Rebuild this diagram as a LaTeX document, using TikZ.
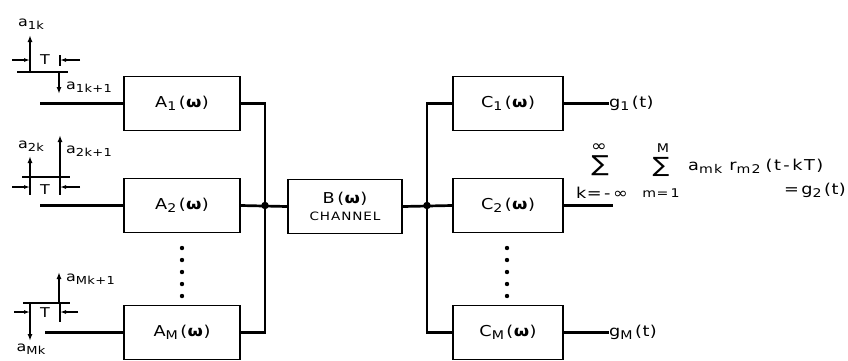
\documentclass[tikz,border=0pt]{standalone}
\usepackage{fontspec}
\setmainfont{DejaVu Sans}[FakeStretch=1.18,LetterSpace=3]
\usepackage{graphicx}
\usetikzlibrary{arrows.meta}
\newcommand\subfont{\fontsize{11}{11}\selectfont}
\newcommand\lo[1]{\raisebox{-0.35ex}{\subfont #1}}
\newcommand\om{\textbf{ω}}
\begin{document}
\begin{tikzpicture}[x=1pt,y=-1pt,
  big/.style={font={\fontsize{15}{18}\selectfont\renewcommand\subfont{\fontsize{12}{12}\selectfont}}},
  small/.style={font={\fontsize{13.5}{16}\selectfont\renewcommand\subfont{\fontsize{11}{11}\selectfont}}},
  blk/.style={draw,line width=1.5pt,minimum width=#1,minimum height=54pt,inner sep=0pt,big},
  blk/.default=116pt,
  wire/.style={line width=2.7pt},
  imp/.style={line width=1.6pt,-{Latex[length=7pt,width=5pt]}},
  base/.style={line width=1.4pt},
  dim/.style={line width=1.1pt,-{Latex[length=6pt,width=4pt]}},
  lbl/.style={small,inner sep=0pt},
  sig/.style={inner sep=0pt,text height=15pt,text depth=0pt,font=\fontsize{#1}{#1}\selectfont},
  dot/.style={fill,circle,inner sep=0pt,minimum size=7.5pt}]
\useasboundingbox (0,0) rectangle (848,360);
% blocks
\node[blk] (A1) at (182,103.5) {A\lo{1}\,(\om)};
\node[blk] (A2) at (182,205.5) {A\lo{2}\,(\om)};
\node[blk] (AM) at (182,332.5) {A\lo{M}\,(\om)};
\node[blk=114pt,align=center] (B) at (345,206.5) {B\,(\om)\\[-1pt]{\fontsize{11.5}{12}\selectfont\addfontfeature{LetterSpace=8}CHANNEL}};
\node[blk=110pt] (C1) at (508,103.5) {C\lo{1}\,(\om)};
\node[blk=110pt] (C2) at (508,205.5) {C\lo{2}\,(\om)};
\node[blk=110pt] (CM) at (508,332.5) {C\lo{M}\,(\om)};
% inputs
\coordinate (i1) at (40,103.5);
\coordinate (i2) at (40,205.5);
\coordinate (iM) at (45,332.5);
\draw[wire] (i1) -- (A1.west);
\draw[wire] (i2) -- (A2.west);
\draw[wire] (iM) -- (AM.west);
% bus 1
\coordinate (b1t) at (265,103.5);
\coordinate (b1b) at (265,332.5);
\coordinate (j1) at (265,205.5);
\draw[wire] (A1.east) -- (b1t) -- (b1b) -- (AM.east);
\draw[wire] (A2.east) -- (B.west);
\node[dot] (d1) at (j1) {};
% bus 2
\coordinate (b2t) at (427,103.5);
\coordinate (b2b) at (427,332.5);
\coordinate (j2) at (427,205.5);
\draw[wire] (C1.west) -- (b2t) -- (b2b) -- (CM.west);
\draw[wire] (B.east) -- (C2.west);
\node[dot] (d2) at (j2) {};
% outputs
\node[lbl,big,anchor=west] (g1) at (609,103.5) {g\lo{1}\,(t)};
\node[lbl,big,anchor=west] (gM) at (609,332.5) {g\lo{M}\,(t)};
\coordinate (o2) at (613,205.5);
\draw[wire] (C1.east) -- (g1.west);
\draw[wire] (CM.east) -- (gM.west);
\draw[wire] (C2.east) -- (o2);
% formula
\node[sig=22] (s1) at (600,164) {∑};
\node[lbl,font=\fontsize{16}{16}\selectfont] (s1t) at (599,148) {∞};
\node[lbl,big] (s1b) at (602,193) {k=\,-\,∞};
\node[sig=21] (s2) at (661,164.5) {∑};
\node[lbl,font=\fontsize{12}{13}\selectfont] (s2t) at (663,148) {M};
\node[lbl,font=\fontsize{12}{13}\selectfont] (s2b) at (661,193) {m=\,1};
\node[lbl,big,anchor=west] (f1) at (688,166) {\addfontfeature{LetterSpace=10}a\lo{mk}\ r\lo{m2}\,\,(t\,-\,kT)};
\node[lbl,big,anchor=east] (f2) at (846,190) {=\,g\lo{2}\,(t)};
% impulse group 1
\draw[base] (17,72) -- (68,72);
\draw[imp] (30,72) -- (30,35);
\draw[imp] (59,72) -- (59,94);
\draw[base] (60,55) -- (60,66);
\draw[dim] (12,60) -- (30,60);
\draw[dim] (80,60) -- (60,60);
\node[lbl] (T1) at (45,60) {T};
\node[lbl] (a1k) at (31,24) {a\lo{1k}};
\node[lbl,anchor=west] (a1k1) at (66,87) {a\lo{1k+1}};
% impulse group 2
\draw[base] (22,177) -- (70,177);
\draw[imp] (30,177) -- (30,156);
\draw[imp] (60,177) -- (60,135);
\draw[base] (30,177) -- (30,195);
\draw[base] (60,177) -- (60,195);
\draw[dim] (12,187) -- (30,187);
\draw[dim] (80,187) -- (60,187);
\node[lbl] (T2) at (45,190) {T};
\node[lbl] (a2k) at (31,146) {a\lo{2k}};
\node[lbl,anchor=west] (a2k1) at (66,151) {a\lo{2k+1}};
% impulse group M
\draw[base] (23,303) -- (70,303);
\draw[imp] (59,303) -- (59,272);
\draw[imp] (30,303) -- (30,341);
\draw[base] (60,303) -- (60,322);
\draw[dim] (14,312) -- (30,312);
\draw[dim] (78,312) -- (60,312);
\node[lbl] (T3) at (45,313) {T};
\node[lbl] (aMk) at (31,349) {a\lo{Mk}};
\node[lbl,anchor=west] (aMk1) at (66,279) {a\lo{Mk+1}};
% dots
\foreach \y in {248,260,272,284,296} {
  \fill (182,\y) circle (2.2);
  \fill (507,\y) circle (2.2);
}
\end{tikzpicture}
\end{document}
